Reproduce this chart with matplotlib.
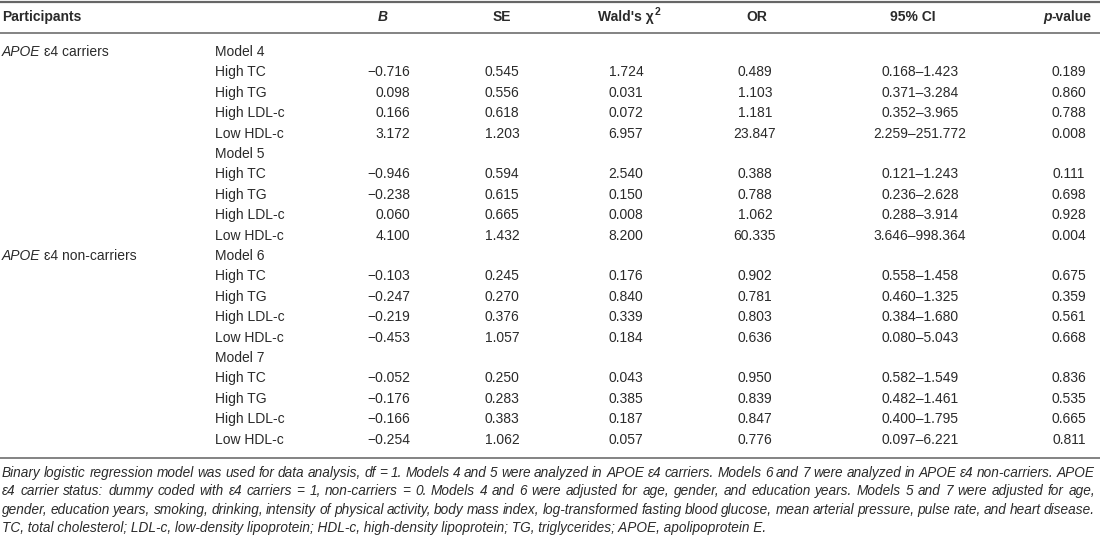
import matplotlib
matplotlib.use("Agg")
import matplotlib.pyplot as plt

# ---- table data ----
groups = ["carriers", "non-carriers"]
models = ["Model 4", "Model 5", "Model 6", "Model 7"]
factors = ["High TC", "High TG", "High LDL-c", "Low HDL-c"]

B = [[-0.716, 0.098, 0.166, 3.172],
     [-0.946, -0.238, 0.060, 4.100],
     [-0.103, -0.247, -0.219, -0.453],
     [-0.052, -0.176, -0.166, -0.254]]
SE = [[0.545, 0.556, 0.618, 1.203],
      [0.594, 0.615, 0.665, 1.432],
      [0.245, 0.270, 0.376, 1.057],
      [0.250, 0.283, 0.383, 1.062]]
wald = [[1.724, 0.031, 0.072, 6.957],
        [2.540, 0.150, 0.008, 8.200],
        [0.176, 0.840, 0.339, 0.184],
        [0.043, 0.385, 0.187, 0.057]]
OR = [[0.489, 1.103, 1.181, 23.847],
      [0.388, 0.788, 1.062, 60.335],
      [0.902, 0.781, 0.803, 0.636],
      [0.950, 0.839, 0.847, 0.776]]
ci_low = [[0.168, 0.371, 0.352, 2.259],
          [0.121, 0.236, 0.288, 3.646],
          [0.558, 0.460, 0.384, 0.080],
          [0.582, 0.482, 0.400, 0.097]]
ci_high = [[1.423, 3.284, 3.965, 251.772],
           [1.243, 2.628, 3.914, 998.364],
           [1.458, 1.325, 1.680, 5.043],
           [1.549, 1.461, 1.795, 6.221]]
pval = [[0.189, 0.860, 0.788, 0.008],
        [0.111, 0.698, 0.928, 0.004],
        [0.675, 0.359, 0.561, 0.668],
        [0.836, 0.535, 0.665, 0.811]]

footnote = [
    "Binary logistic regression model was used for data analysis, df = 1. Models 4 and 5 were analyzed in APOE \u025b4 carriers. Models 6 and 7 were analyzed in APOE \u025b4 non-carriers. APOE",
    "\u025b4 carrier status: dummy coded with \u025b4 carriers = 1, non-carriers = 0. Models 4 and 6 were adjusted for age, gender, and education years. Models 5 and 7 were adjusted for age,",
    "gender, education years, smoking, drinking, intensity of physical activity, body mass index, log-transformed fasting blood glucose, mean arterial pressure, pulse rate, and heart disease.",
    "TC, total cholesterol; LDL-c, low-density lipoprotein; HDL-c, high-density lipoprotein; TG, triglycerides; APOE, apolipoprotein E.",
]

plt.rcParams['font.family'] = ['Liberation Sans', 'DejaVu Sans']
txt = '#2a2a2a'
rule = '#7a7a7a'
fs = 10

fig = plt.figure(figsize=(11, 5.4), dpi=100)
ax = fig.add_axes([0, 0, 1, 1])
ax.set_xlim(0, 1100)
ax.set_ylim(540, 0)
ax.axis('off')
renderer = fig.canvas.get_renderer()


def width(s, **kw):
    t = ax.text(0, 0, s, **kw)
    w = t.get_window_extent(renderer).width
    t.remove()
    return w


def fmt(v):
    s = f"{abs(v):.3f}"
    return ("\u2212" + s) if v < 0 else s


def segs(x, y, parts, align='left', size=fs):
    # parts: list of (text, weight, style)
    ws = [width(p, fontsize=size, fontweight=w, fontstyle=st) for p, w, st in parts]
    total = sum(ws)
    if align == 'right':
        x = x - total
    elif align == 'center':
        x = x - total / 2
    for (p, w, st), wd in zip(parts, ws):
        ax.text(x, y, p, fontsize=size, fontweight=w, fontstyle=st,
                color=txt, va='center', ha='left')
        x += wd


# rules
ax.plot([0, 1100], [1.5, 1.5], color='#666666', lw=1.6)
ax.plot([0, 1100], [33, 33], color=rule, lw=1.3)
ax.plot([0, 1100], [458, 458], color=rule, lw=1.3)

# header
hy = 17
ax.text(2, hy, "Participants", fontsize=fs, fontweight='bold', color=txt, va='center')
ax.text(383, hy, "B", fontsize=fs, fontweight='bold', fontstyle='italic', color=txt, va='center', ha='center')
ax.text(502, hy, "SE", fontsize=fs, fontweight='bold', color=txt, va='center', ha='center')
segs(626, hy, [("Wald's \u03c7", 'bold', 'normal')], align='center')
wx = 626 + width("Wald's \u03c7", fontsize=fs, fontweight='bold') / 2
ax.text(wx + 1, hy - 5, "2", fontsize=7.5, fontweight='bold', color=txt, va='center')
ax.text(757, hy, "OR", fontsize=fs, fontweight='bold', color=txt, va='center', ha='center')
ax.text(913, hy, "95% CI", fontsize=fs, fontweight='bold', color=txt, va='center', ha='center')
segs(1092, hy, [("p", 'bold', 'italic'), ("-value", 'bold', 'normal')], align='right')

# body
y0, dy = 52, 20.4
row = 0
for m in range(len(models)):
    y = y0 + row * dy
    if m % 2 == 0:
        sp = width("APOE", fontsize=fs, fontstyle='italic')
        ax.text(2, y, "APOE", fontsize=fs, fontstyle='italic', color=txt, va='center')
        ax.text(2 + sp + 3, y, "\u025b4 " + groups[m // 2], fontsize=fs, color=txt, va='center')
    ax.text(215, y, models[m], fontsize=fs, color=txt, va='center')
    row += 1
    for f in range(len(factors)):
        y = y0 + row * dy
        ax.text(215, y, factors[f], fontsize=fs, color=txt, va='center')
        ax.text(410, y, fmt(B[m][f]), fontsize=fs, color=txt, va='center', ha='right')
        ax.text(502, y, fmt(SE[m][f]), fontsize=fs, color=txt, va='center', ha='center')
        ax.text(626, y, fmt(wald[m][f]), fontsize=fs, color=txt, va='center', ha='center')
        ax.text(755, y, fmt(OR[m][f]), fontsize=fs, color=txt, va='center', ha='center')
        ax.text(920, y, fmt(ci_low[m][f]) + "\u2013" + fmt(ci_high[m][f]),
                fontsize=fs, color=txt, va='center', ha='center')
        ax.text(1069, y, fmt(pval[m][f]), fontsize=fs, color=txt, va='center', ha='center')
        row += 1

# footnote, justified except last line
probe = "TC, total cholesterol; LDL-c, low-density lipoprotein; HDL-c, high-density lipoprotein; TG, tr"
nfs = 9 * 546 / width(probe, fontsize=9, fontstyle='italic')
full = 1095
for i, line in enumerate(footnote):
    y = 473 + i * 18.4
    if i == len(footnote) - 1:
        ax.text(2, y, line, fontsize=nfs, fontstyle='italic', color=txt, va='center')
        continue
    words = line.split(" ")
    ws = [width(w, fontsize=nfs, fontstyle='italic') for w in words]
    gap = (full - 2 - sum(ws)) / (len(words) - 1)
    x = 2
    for w, wd in zip(words, ws):
        ax.text(x, y, w, fontsize=nfs, fontstyle='italic', color=txt, va='center')
        x += wd + gap

fig.savefig("out.png", dpi=100, facecolor='white')
